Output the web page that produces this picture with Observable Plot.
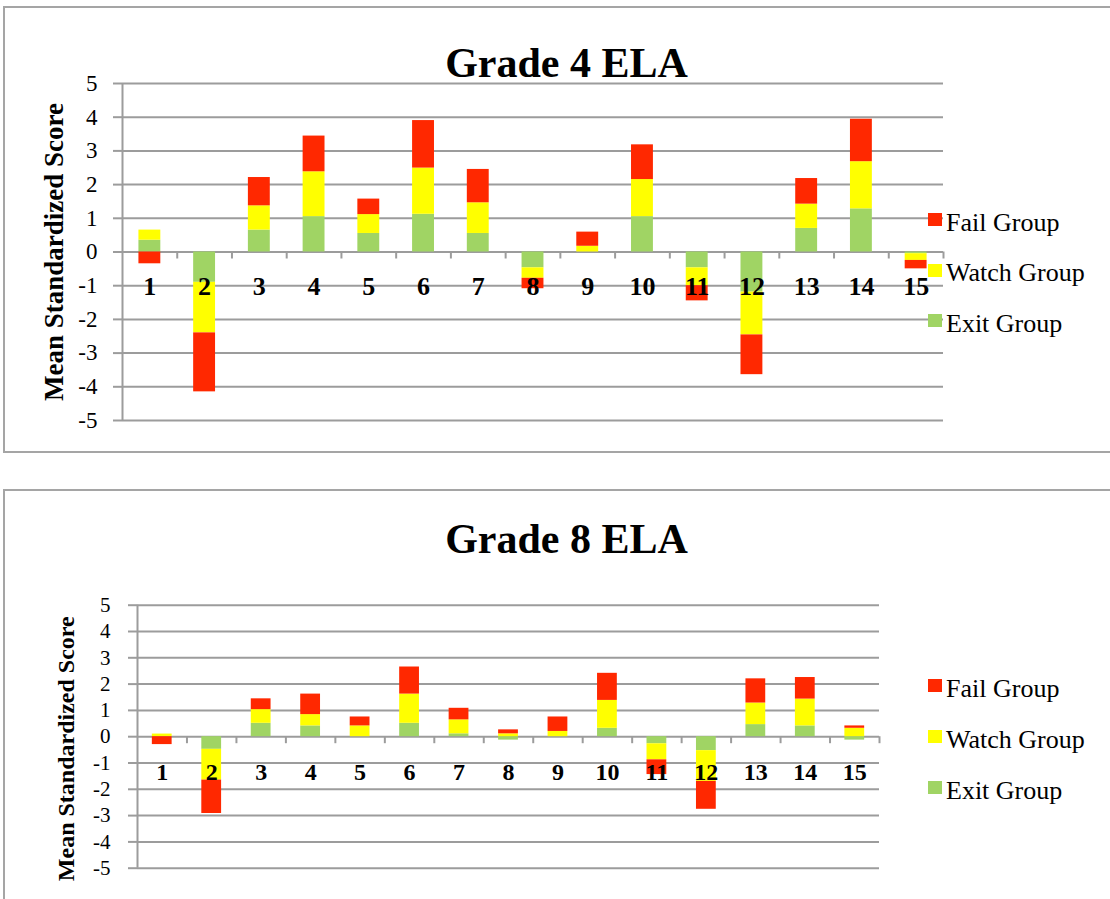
<!DOCTYPE html>
<html><head><meta charset="utf-8">
<script src="https://cdn.jsdelivr.net/npm/d3@7"></script>
<script src="https://cdn.jsdelivr.net/npm/@observablehq/plot@0.6"></script>
<style>
html,body{margin:0;padding:0;background:#fff;}
body{width:1110px;height:899px;overflow:hidden;position:relative;font-family:"Liberation Serif","Times New Roman",serif;color:#000;}
.frame{position:absolute;box-sizing:border-box;border:2px solid #a5a5a5;}
.title{position:absolute;left:0;width:1133px;text-align:center;font-weight:bold;font-size:42px;line-height:1;white-space:nowrap;}
.sw{position:absolute;width:14px;height:13px;}
.lt{position:absolute;font-size:26px;line-height:1;white-space:nowrap;}
.chart{position:absolute;left:0;}
</style></head><body>
<div class="frame" style="left:3px;top:6px;width:1200px;height:447px;"></div>
<div class="frame" style="left:3px;top:489px;width:1200px;height:600px;"></div>
<script>
// ---- data ----
const categories = ["1","2","3","4","5","6","7","8","9","10","11","12","13","14","15"];
const stackGroups = ["Exit Group","Watch Group","Fail Group"];   // stacking order (bottom first)
const legendGroups = ["Fail Group","Watch Group","Exit Group"];  // legend order
const groupColors = ["#A0D464","#FFFF00","#FF2800"];
const yTicks = [-5,-4,-3,-2,-1,0,1,2,3,4,5];
const yTitle = "Mean Standardized Score";
const chartTitles = ["Grade 4 ELA","Grade 8 ELA"];

const g4Exit  = [0.35,-0.90,0.65,1.05,0.55,1.12,0.55,-0.47,0.00,1.05,-0.47,-1.19,0.70,1.28,-0.05];
const g4Watch = [0.30,-1.50,0.72,1.33,0.56,1.37,0.91,-0.31,0.17,1.10,-0.53,-1.27,0.72,1.40,-0.20];
const g4Fail  = [-0.35,-1.75,0.84,1.06,0.46,1.41,0.99,-0.31,0.42,1.03,-0.45,-1.18,0.76,1.26,-0.25];

const g8Exit  = [0.00,-0.48,0.51,0.41,0.00,0.51,0.11,-0.13,0.00,0.32,-0.27,-0.53,0.46,0.41,-0.13];
const g8Watch = [0.10,-1.17,0.52,0.43,0.41,1.11,0.53,0.11,0.20,1.06,-0.61,-1.17,0.82,1.02,0.32];
const g8Fail  = [-0.30,-1.27,0.41,0.78,0.34,1.03,0.44,0.15,0.55,1.03,-0.56,-1.06,0.92,0.82,0.09];

// ---- chart builder ----
const GRID = "#9c9c9c";
function makeChart(series, cfg) {
  const rows = [];
  categories.forEach((c, i) => {
    stackGroups.forEach((g, k) => rows.push({cat: c, group: g, value: series[k][i]}));
  });
  const width = 1110;
  const step = (width - cfg.ml - cfg.mr) / categories.length;
  const svg = Plot.plot({
    width, height: cfg.height,
    marginTop: cfg.mt, marginBottom: cfg.mb, marginLeft: cfg.ml, marginRight: cfg.mr,
    style: {fontFamily: "Liberation Serif", fontSize: cfg.yFont + "px", color: "#000", background: "transparent", overflow: "visible"},
    x: {type: "band", domain: categories, paddingInner: 0.6, paddingOuter: 0.3, round: false, axis: null},
    y: {domain: [-5, 5]},
    color: {domain: stackGroups, range: groupColors},
    marks: [
      Plot.gridY(yTicks, {stroke: GRID, strokeOpacity: 1, strokeWidth: 2}),
      Plot.axisY(yTicks, {tickSize: 9, tickPadding: cfg.tp, stroke: GRID, strokeWidth: 2, label: null, fill: "#000", fontSize: cfg.yFont, tickFormat: d => String(d)}),
      Plot.ruleX([categories[0]], {x: d => d, dx: -step / 2, stroke: GRID, strokeWidth: 2}),
      Plot.ruleX(categories, {x: d => d, y1: () => 0, y2: () => 0, dx: step / 2, insetBottom: -7, stroke: GRID, strokeWidth: 2}),
      Plot.barY(rows, {x: "cat", y: "value", fill: "group"}),
      Plot.text(categories, {x: d => d, y: () => 0, text: d => d, dy: 43, lineAnchor: "bottom", fontWeight: "bold", fontSize: cfg.xFont, fill: "#000"}),
      Plot.text([yTitle], {frameAnchor: "left", y: () => 0, rotate: -90, dx: cfg.titleDx, dy: cfg.titleDy, text: d => d, textAnchor: "middle", lineAnchor: "bottom", fontWeight: "bold", fontSize: cfg.titleFont, fill: "#000"})
    ]
  });
  const wrap = document.createElement("div");
  wrap.className = "chart";
  wrap.style.top = cfg.top + "px";
  wrap.appendChild(svg);
  document.body.appendChild(wrap);

  // title
  const t = document.createElement("div");
  t.className = "title";
  t.style.top = (cfg.titleBaseline - 0.8375 * 42) + "px";
  t.textContent = cfg.title;
  document.body.appendChild(t);

  // legend
  legendGroups.forEach((g, i) => {
    const sTop = cfg.legendTop + i * cfg.legendGap;
    const sw = document.createElement("div");
    sw.className = "sw";
    sw.style.left = "928px";
    sw.style.top = sTop + "px";
    sw.style.background = groupColors[stackGroups.indexOf(g)];
    document.body.appendChild(sw);
    const lt = document.createElement("div");
    lt.className = "lt";
    lt.style.left = "946px";
    lt.style.top = (sTop + 18.5 - 0.8375 * 26) + "px";
    lt.textContent = g;
    document.body.appendChild(lt);
  });
}

makeChart([g4Exit, g4Watch, g4Fail], {
  title: chartTitles[0], top: 0, height: 460, mt: 83, mb: 40, ml: 122, mr: 167,
  yFont: 23, xFont: 26, titleFont: 27, tp: 16, titleDx: -60, titleDy: 0,
  titleBaseline: 77, legendTop: 213, legendGap: 50.5
});
makeChart([g8Exit, g8Watch, g8Fail], {
  title: chartTitles[1], top: 460, height: 439, mt: 144.7, mb: 31.3, ml: 137, mr: 231,
  yFont: 21, xFont: 24, titleFont: 24, tp: 18, titleDx: -64, titleDy: 12,
  titleBaseline: 553, legendTop: 679, legendGap: 51
});
</script>
</body></html>
